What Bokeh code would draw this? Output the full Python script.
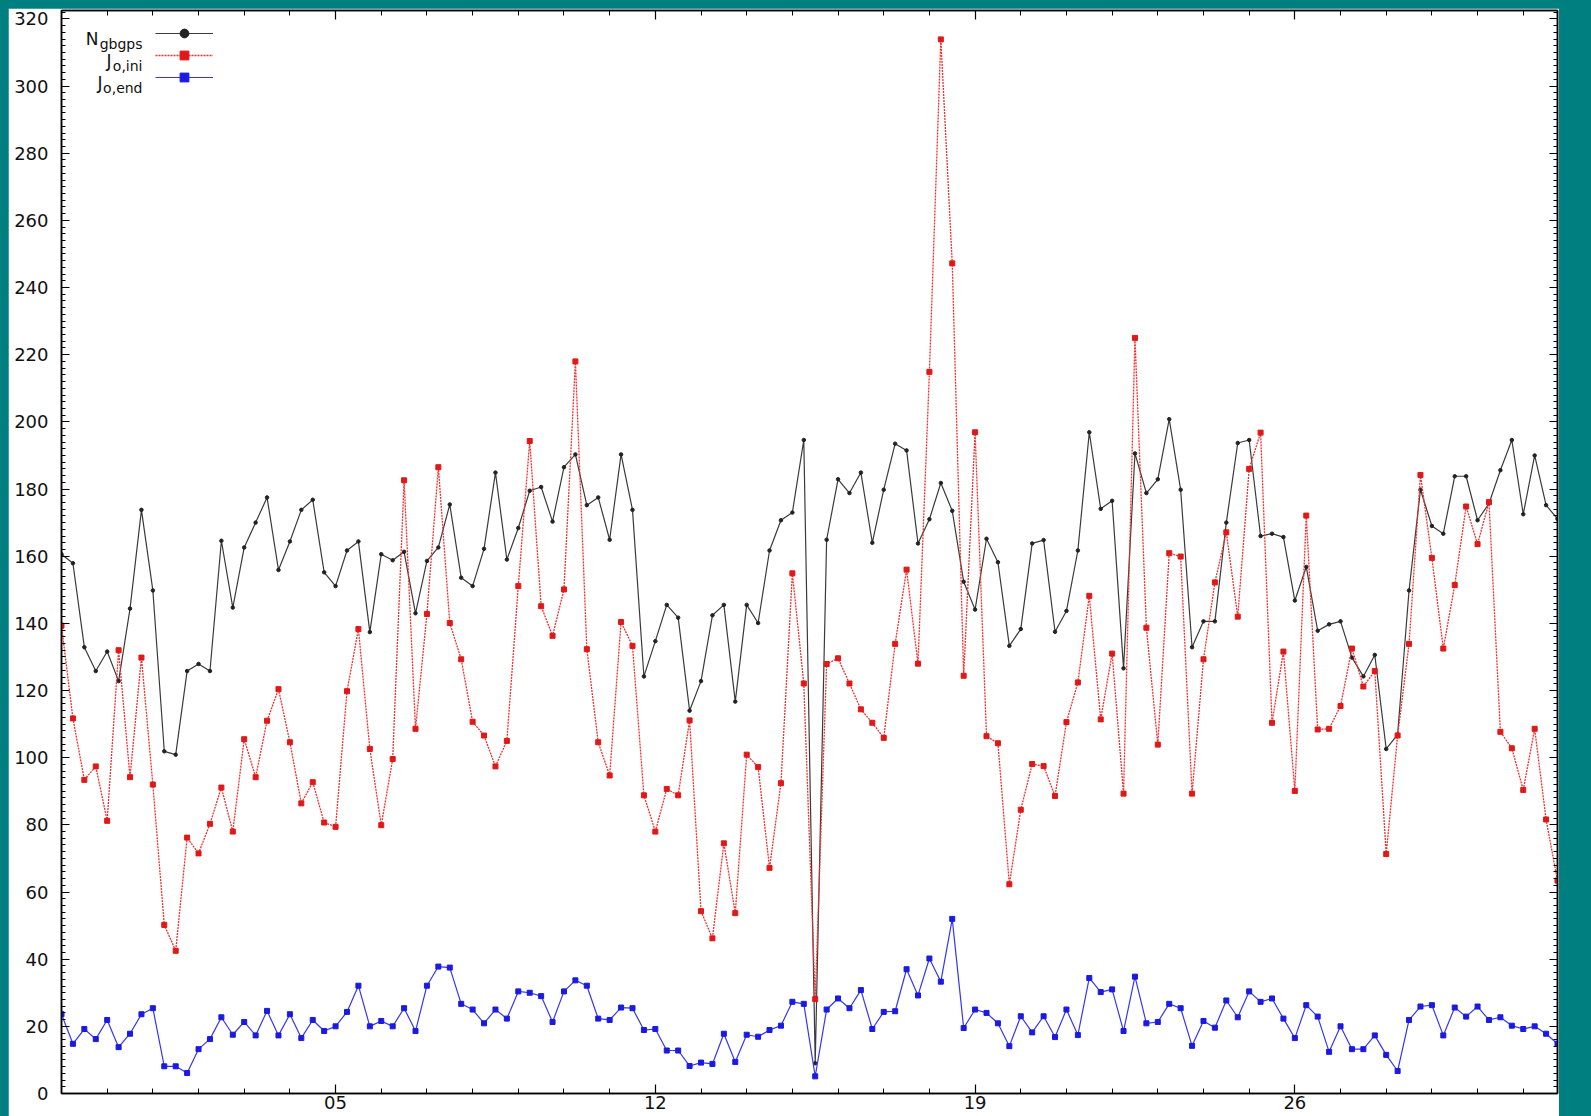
import numpy as np
from bokeh.plotting import figure
from bokeh.models import (Range1d, LinearAxis, SingleIntervalTicker, FixedTicker,
                          Legend, LegendItem, Label, CustomJSTickFormatter)
from bokeh.embed import file_html
from bokeh.resources import INLINE

# ---------------- data (6-hourly values) ----------------
n_gbgps = [160.6, 157.9, 132.9, 125.8, 131.6, 122.8, 144.4, 173.8, 149.8, 101.9,
           100.9, 125.8, 127.9, 125.8, 164.6, 144.7, 162.6, 170.0, 177.5, 155.9,
           164.4, 173.8, 176.8, 155.2, 151.1, 161.7, 164.4, 137.4, 160.6, 158.8,
           161.3, 143.0, 158.6, 162.6, 175.4, 153.6, 151.1, 162.2, 184.9, 159.0,
           168.4, 179.5, 180.6, 170.3, 186.5, 190.3, 175.2, 177.5, 164.9, 190.3,
           173.8, 124.2, 134.7, 145.5, 141.7, 114.0, 122.8, 142.4, 145.5, 116.7,
           145.5, 140.1, 161.7, 170.7, 173.0, 194.6, 9.0, 164.9, 182.9, 178.8,
           184.9, 164.0, 179.8, 193.5, 191.5, 163.8, 171.0, 181.8, 173.5, 152.4,
           144.1, 165.2, 158.2, 133.3, 138.3, 163.8, 164.8, 137.5, 143.7, 161.7,
           196.9, 174.1, 176.5, 126.6, 190.6, 178.8, 182.9, 200.8, 179.8, 132.9,
           140.6, 140.6, 170.0, 193.7, 194.6, 166.0, 166.7, 165.7, 146.8, 156.8,
           137.8, 139.7, 140.6, 129.8, 124.2, 130.6, 102.6, 106.9, 149.8, 179.8,
           169.0, 166.7, 183.8, 183.8, 170.7, 175.7, 185.6, 194.6, 172.5, 190.0,
           175.2, 171.1]

j_o_ini = [139.3, 111.7, 93.4, 97.4, 81.2, 132.0, 94.2, 129.8, 92.0, 50.2,
           42.5, 76.2, 71.5, 80.3, 91.1, 78.0, 105.5, 94.2, 111.0, 120.4,
           104.6, 86.4, 92.7, 80.7, 79.4, 119.8, 138.3, 102.6, 79.9, 99.6,
           182.6, 108.6, 142.8, 186.5, 140.1, 129.3, 110.7, 106.6, 97.4, 105.0,
           151.1, 194.3, 145.1, 136.3, 150.1, 218.0, 132.3, 104.6, 94.7, 140.4,
           133.3, 88.8, 78.0, 90.7, 88.8, 111.1, 54.3, 46.2, 74.5, 53.7,
           100.9, 97.2, 67.2, 92.4, 154.9, 122.1, 28.1, 127.9, 129.6, 122.1,
           114.4, 110.4, 105.9, 133.9, 156.0, 128.0, 214.9, 313.9, 247.2, 124.4,
           196.9, 106.4, 104.3, 62.3, 84.5, 98.1, 97.5, 88.6, 110.6, 122.4,
           148.2, 111.4, 131.0, 89.3, 225.0, 138.7, 103.9, 160.9, 159.9, 89.3,
           129.3, 152.2, 167.1, 142.0, 186.0, 196.8, 110.4, 131.6, 90.1, 172.1,
           108.4, 108.6, 115.4, 132.5, 121.2, 125.8, 71.3, 106.6, 133.9, 184.2,
           159.5, 132.5, 151.4, 174.8, 163.6, 176.1, 107.7, 102.8, 90.4, 108.6,
           81.6, 63.4]

j_o_end = [23.6, 14.8, 19.2, 16.2, 21.9, 13.8, 17.8, 23.6, 25.4, 8.1,
           8.1, 6.1, 13.2, 16.2, 22.7, 17.5, 21.3, 17.3, 24.6, 17.3,
           23.6, 16.5, 21.9, 18.6, 20.0, 24.3, 32.1, 20.0, 21.6, 20.0,
           25.4, 18.6, 32.1, 37.8, 37.5, 26.7, 25.0, 20.9, 25.0, 22.3,
           30.4, 30.0, 29.0, 21.3, 30.4, 33.7, 32.1, 22.3, 21.9, 25.6,
           25.4, 18.9, 19.2, 12.8, 12.8, 8.2, 9.2, 8.8, 17.8, 9.4,
           17.5, 16.9, 18.9, 20.2, 27.3, 26.7, 5.1, 25.0, 28.3, 25.4,
           30.8, 19.2, 24.3, 24.5, 37.0, 29.2, 40.2, 33.3, 52.0, 19.5,
           25.0, 24.0, 20.9, 14.1, 23.0, 18.2, 23.0, 16.8, 25.0, 17.4,
           34.4, 30.2, 31.0, 18.6, 34.8, 20.9, 21.3, 26.7, 25.4, 14.2,
           21.6, 19.6, 27.7, 22.7, 30.4, 27.3, 28.3, 22.3, 16.5, 26.3,
           22.9, 12.4, 20.0, 13.2, 13.2, 17.3, 11.5, 6.7, 21.9, 25.9,
           26.3, 17.3, 25.6, 22.9, 25.9, 21.9, 22.7, 20.2, 19.2, 20.0,
           17.8, 14.8]

step_hours = 6
days = np.arange(len(n_gbgps)) * step_hours / 24.0   # days since first analysis

x_major_days = [6, 13, 20, 27]
x_major_labels = ["05", "12", "19", "26"]
x_minor_days = list(range(0, 33))
y_min, y_top, y_step = 0, 322.5, 20

# ---------------- layout constants ----------------
W, H = 1551, 1108
B_TOP, B_BOTTOM, B_LEFT, B_RIGHT = 2, 23, 53, 2
FH = H - B_TOP - B_BOTTOM
FONT = "DejaVu Sans"
TXT = "#111111"

p = figure(width=W, height=H, output_backend="svg", toolbar_location=None,
           x_range=Range1d(days[0], days[-1]), y_range=Range1d(y_min, y_top),
           min_border_left=B_LEFT, min_border_right=B_RIGHT,
           min_border_top=B_TOP, min_border_bottom=B_BOTTOM,
           background_fill_color="white", border_fill_color="white",
           outline_line_color="black", outline_line_width=1.5)
p.xgrid.visible = False
p.ygrid.visible = False


def style(ax, major_in, minor_in, standoff):
    ax.axis_line_color = "black"
    ax.axis_line_width = 1.5
    ax.major_tick_in = major_in
    ax.major_tick_out = 0
    ax.minor_tick_in = minor_in
    ax.minor_tick_out = 0
    ax.major_tick_line_color = "black"
    ax.minor_tick_line_color = "black"
    ax.major_tick_line_width = 1.2
    ax.minor_tick_line_width = 1
    ax.major_label_standoff = standoff
    ax.major_label_text_font = FONT
    ax.major_label_text_font_size = "18px"
    ax.major_label_text_color = TXT


# left y axis
p.yaxis.ticker = SingleIntervalTicker(interval=y_step, num_minor_ticks=10)
style(p.yaxis[0], 8, 4, 13)

# bottom x axis
p.xaxis.ticker = FixedTicker(ticks=x_major_days, minor_ticks=x_minor_days)
p.xaxis.major_label_overrides = {d: s for d, s in zip(x_major_days, x_major_labels)}
style(p.xaxis[0], 9, 5, 2)

blank = CustomJSTickFormatter(code="return ''")
right_ax = LinearAxis(ticker=SingleIntervalTicker(interval=y_step, num_minor_ticks=10),
                      formatter=blank)
style(right_ax, 8, 4, 0)
right_ax.major_label_text_font_size = "1px"
p.add_layout(right_ax, "right")

top_ax = LinearAxis(ticker=FixedTicker(ticks=x_major_days, minor_ticks=x_minor_days),
                    formatter=blank)
style(top_ax, 9, 5, 0)
top_ax.major_label_text_font_size = "1px"
p.add_layout(top_ax, "above")

# ---------------- series ----------------
bl = p.line(days, n_gbgps, line_color="#3a3a3a", line_width=1.2)
bm = p.scatter(days, n_gbgps, marker="circle", size=3.5, fill_color="#222222", line_color="#222222")

rl = p.line(days, j_o_ini, line_color="#f03030", line_width=1.3, line_dash="2 1")
rm = p.scatter(days, j_o_ini, marker="square", size=5, fill_color="#e01818", line_color="#e01818")

ul = p.line(days, j_o_end, line_color="#3535f5", line_width=1.2)
um = p.scatter(days, j_o_end, marker="square", size=5, fill_color="#1a1ae0", line_color="#1a1ae0")

# ---------------- legend (gnuplot style: text left, sample right) ----------------
ROW_H = 22
LEG_TOP = 12
legend = Legend(items=[LegendItem(label=" ", renderers=[bl, bm]),
                       LegendItem(label=" ", renderers=[rl, rm]),
                       LegendItem(label=" ", renderers=[ul, um])],
                location=(94, FH - LEG_TOP - 3 * ROW_H), orientation="vertical",
                padding=0, margin=0, spacing=0, glyph_width=58, glyph_height=ROW_H,
                label_height=ROW_H, label_width=1, label_standoff=0,
                label_text_font_size="1px",
                background_fill_alpha=0, border_line_alpha=0)
p.add_layout(legend, "center")

TEXT_RIGHT = 81          # right edge of the key texts, px from frame left
rows = [LEG_TOP + ROW_H * k + ROW_H / 2 for k in range(3)]
# (main symbol, subscript, approx. subscript width in px at 14px)
texts = [("N", "gbgps", 43), ("J", "o,ini", 30), ("J", "o,end", 39)]
for (main, sub, wsub), r in zip(texts, rows):
    p.add_layout(Label(x=TEXT_RIGHT - wsub - 1, y=FH - r - 5, x_units="screen", y_units="screen",
                       text=main, text_font=FONT, text_font_size="17px",
                       text_color=TXT, text_baseline="alphabetic", text_align="right"))
    p.add_layout(Label(x=TEXT_RIGHT, y=FH - r - 10, x_units="screen", y_units="screen",
                       text=sub, text_font=FONT, text_font_size="14px",
                       text_color=TXT, text_baseline="alphabetic", text_align="right"))

html = file_html(p, INLINE, title="Jo statistics")
css = ("<style>html, body { background-color: #007f80; overflow: hidden; }"
       " body { margin: 0 !important; padding: 8px 0 0 8px !important; box-sizing: border-box; }"
       "</style></head>")
html = html.replace("</head>", css, 1)
open("out.html", "w").write(html)
